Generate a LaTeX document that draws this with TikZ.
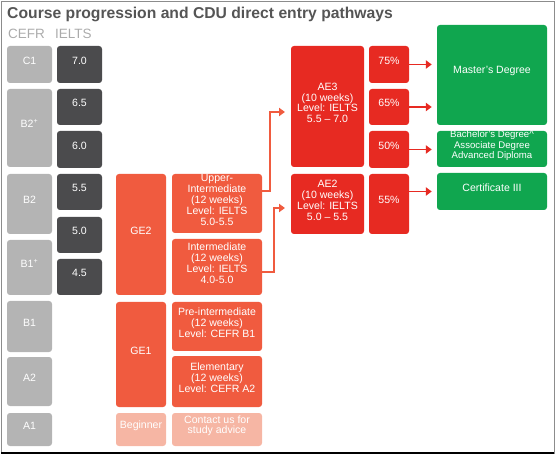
\documentclass[tikz,border=0pt]{standalone}
\usepackage{fontspec}
\setmainfont{Liberation Sans}
\usetikzlibrary{arrows.meta, positioning, fit}
\definecolor{cGray}{HTML}{B4B4B4}
\definecolor{cDark}{HTML}{4B4B4D}
\definecolor{cGE}{HTML}{F05B3F}
\definecolor{cAE}{HTML}{E72A22}
\definecolor{cBeg}{HTML}{F6B6A4}
\definecolor{cDeg}{HTML}{10A64F}
\definecolor{cTitle}{HTML}{555555}
\definecolor{cHead}{HTML}{ABABAB}

\begin{document}
\begin{tikzpicture}[x=0.03cm, y=-0.03cm,
      blk/.style={rounded corners=2.5pt, inner sep=0pt, text=white,
                  align=center, font=\fontsize{9}{9.2}\selectfont},
      cefr/.style={blk, fill=cGray},
      ielts/.style={blk, fill=cDark},
      ge/.style={blk, fill=cGE},
      ae/.style={blk, fill=cAE},
      beg/.style={blk, fill=cBeg},
      deg/.style={blk, fill=cDeg},
      gelink/.style={draw=cGE, line width=1.3pt,
                     -{Triangle[length=5pt, width=7pt]}, shorten >=5pt},
      aelink/.style={draw=cAE, line width=1.3pt,
                     -{Triangle[length=5pt, width=7pt]}, shorten >=4.3pt}]
    \useasboundingbox (0,0) rectangle (556,455);
    \draw[black!45, line width=0.6pt] (1,1) rectangle (554,453);
    \draw[black, line width=1.2pt] (1,453) -- (554,453);

    % headings
    \node[anchor=base west, inner sep=0pt, text=cTitle,
          font=\fontsize{13.4}{15}\selectfont\bfseries] (title) at (7,19)
          {Course progression and CDU direct entry pathways};
    \node[anchor=base west, inner sep=0pt, text=cHead,
          font=\fontsize{11.5}{13}\selectfont] (hcefr) at (8,39) {CEFR};
    \node[anchor=base west, inner sep=0pt, text=cHead,
          font=\fontsize{11.5}{13}\selectfont] (hielts) at (55,39) {IELTS};

    % CEFR column
    \node[cefr, fit={(7,46) (52,83)}] (c1) {C1};
    \node[cefr, fit={(7,89) (52,167)}] (b2p) {B2\textsuperscript{+}};
    \node[cefr, fit={(7,174) (52,234)}] (b2) {B2};
    \node[cefr, fit={(7,240) (52,295)}] (b1p) {B1\textsuperscript{+}};
    \node[cefr, fit={(7,301) (52,352)}] (b1) {B1};
    \node[cefr, fit={(7,357) (52,406)}] (a2) {A2};
    \node[cefr, fit={(7,413) (52,446)}] (a1) {A1};

    % IELTS column
    \node[ielts, fit={(57,46) (102,83)}] (i70) {7.0};
    \node[ielts, fit={(57,89) (102,125)}] (i65) {6.5};
    \node[ielts, fit={(57,131) (102,168)}] (i60) {6.0};
    \node[ielts, fit={(57,174) (102,210)}] (i55) {5.5};
    \node[ielts, fit={(57,217) (102,253)}] (i50) {5.0};
    \node[ielts, fit={(57,259) (102,295)}] (i45) {4.5};

    % general English
    \node[ge, fit={(116,174) (166,295)}] (ge2) {GE2};
    \node[ge, fit={(116,302) (166,407)}] (ge1) {GE1};
    \node[beg, fit={(116,413) (166,446)}] (begin) {Beginner};
    \node[ge, fit={(172,174) (262,233)}] (ui)
         {Upper-\\Intermediate\\(12 weeks)\\Level: IELTS\\5.0-5.5};
    \node[ge, fit={(172,239) (262,295)}] (im)
         {Intermediate\\(12 weeks)\\Level: IELTS\\4.0-5.0};
    \node[ge, fit={(172,302) (262,351)}] (pi)
         {Pre-intermediate\\(12 weeks)\\Level: CEFR B1};
    \node[ge, fit={(172,356) (262,407)}] (el)
         {Elementary\\(12 weeks)\\Level: CEFR A2};
    \node[beg, fit={(172,413) (262,446)}] (adv)
         {Contact us for\\study advice};

    % academic English
    \node[ae, fit={(291,46) (364,167)}] (ae3)
         {AE3\\(10 weeks)\\Level: IELTS\\5.5 – 7.0};
    \node[ae, fit={(291,174) (364,234)}] (ae2)
         {AE2\\(10 weeks)\\Level: IELTS\\5.0 – 5.5};
    \node[ae, fit={(369,46) (409,83)}] (p75) {75\%};
    \node[ae, fit={(369,89) (409,125)}] (p65) {65\%};
    \node[ae, fit={(369,131) (409,168)}] (p50) {50\%};
    \node[ae, fit={(369,174) (409,234)}] (p55) {55\%};

    % degrees
    \node[deg, fit={(437,25) (547,125)}] (mas) {Master’s Degree};
    \node[deg, fit={(437,131) (547,167)}, font=\fontsize{8.2}{8.9}\selectfont] (bach)
         {Bachelor’s Degree\textasciicircum\\Associate Degree\\Advanced Diploma};
    \node[deg, fit={(437,173) (547,210)}] (cert) {Certificate III};

    \draw[gelink] (ui.east |- 0,191) -| (270,112) -- (ae3.west |- 0,112);
    \draw[gelink] (im.east |- 0,272) -| (274,208) -- (ae2.west |- 0,208);

    \draw[aelink] (p75) -- (p75 -| mas.west);
    \draw[aelink] (p65) -- (p65 -| mas.west);
    \draw[aelink] (p50) -- (p50 -| bach.west);
    \draw[aelink] (p55.east |- cert.west) -- (cert.west);
  \end{tikzpicture}
\end{document}
